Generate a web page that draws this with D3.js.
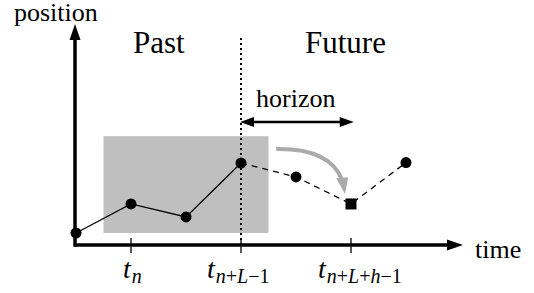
<!DOCTYPE html>
<html><head><meta charset="utf-8"><script src="https://cdn.jsdelivr.net/npm/d3@7"></script></head>
<body style="margin:0">
<svg width="534" height="293"></svg>
<script>
// time steps and positions of the series
var times = [0, 1, 2, 3, 4, 5, 6];
var positions = [0.5, 1.82, 1.23, 3.68, 3.05, 1.82, 3.7];
var pastCount = 4;       // first four points are observed (solid line)
var targetIndex = 5;     // predicted point drawn as a square
var tickTimes = [1, 3, 5];
var tickSubs = [["n"], ["n", "+", "L", "\u22121"], ["n", "+", "L", "+", "h", "\u22121"]];
var windowSpan = [0.5, 3.5];   // shaded input window (time)
var windowRange = [0.5, 4.9];  // shaded input window (position)
var nowTime = 3, horizonEnd = 5.05, horizonPos = 5.55;

var svg = d3.select("svg");

var x = d3.scaleLinear().domain([0, 6]).range([76, 406]);
var y = d3.scaleLinear().domain([0, 10]).range([244, 24]);

function serif(sel) {
  return sel.attr("font-family", "Liberation Serif");
}

// shaded window
svg.append("rect")
    .attr("x", x(windowSpan[0]))
    .attr("y", y(windowRange[1]))
    .attr("width", x(windowSpan[1]) - x(windowSpan[0]))
    .attr("height", y(windowRange[0]) - y(windowRange[1]))
    .attr("fill", "#bfbfbf");

// dotted "now" line
svg.append("line")
    .attr("x1", x(nowTime)).attr("x2", x(nowTime))
    .attr("y1", 38).attr("y2", y(0))
    .attr("stroke", "#000").attr("stroke-width", 2)
    .attr("stroke-dasharray", "2,3");

// axes
var x0 = x(0) - 1, y0 = y(0) + 1;
svg.append("line")
    .attr("x1", x0).attr("y1", y0).attr("x2", 450).attr("y2", y0)
    .attr("stroke", "#000").attr("stroke-width", 3.5);
svg.append("path")
    .attr("d", "M463," + y0 + "L447," + (y0 - 5.5) + "L447," + (y0 + 5.5) + "Z")
    .attr("fill", "#000");
svg.append("line")
    .attr("x1", x0).attr("y1", y0 + 1.75).attr("x2", x0).attr("y2", 38)
    .attr("stroke", "#000").attr("stroke-width", 3.5);
svg.append("path")
    .attr("d", "M" + x0 + ",24L" + (x0 - 5.5) + ",40L" + (x0 + 5.5) + ",40Z")
    .attr("fill", "#000");

// ticks
svg.selectAll(".tick").data(tickTimes).enter().append("line")
    .attr("x1", d => x(d)).attr("x2", d => x(d))
    .attr("y1", y0 - 7).attr("y2", y0 + 8)
    .attr("stroke", "#000").attr("stroke-width", 1.3);

var labelDx = [-8, -34, -33];
tickTimes.forEach(function(t, i) {
  var txt = serif(svg.append("text")
      .attr("x", x(t) + labelDx[i]).attr("y", 278)
      .attr("font-size", 28));
  serif(txt.append("tspan")).attr("font-style", "italic").text("t");
  tickSubs[i].forEach(function(s, j) {
    var ts = serif(txt.append("tspan"))
        .attr("font-size", 20)
        .attr("font-style", /^[a-zA-Z]$/.test(s) ? "italic" : "normal")
        .text(s);
    if (j === 0) ts.attr("dy", 5).attr("dx", 1);
  });
});

// series lines
var line = d3.line().x(d => x(d[0])).y(d => y(d[1]));
var pts = times.map((t, i) => [t, positions[i]]);
svg.append("path")
    .attr("d", line(pts.slice(0, pastCount)))
    .attr("fill", "none").attr("stroke", "#000").attr("stroke-width", 1.3);
svg.append("path")
    .attr("d", line(pts.slice(pastCount - 1)))
    .attr("fill", "none").attr("stroke", "#000").attr("stroke-width", 1.3)
    .attr("stroke-dasharray", "6,5");

svg.selectAll(".pt").data(pts.filter((p, i) => i !== targetIndex)).enter()
  .append("circle")
    .attr("cx", d => x(d[0])).attr("cy", d => y(d[1]))
    .attr("r", 5.5).attr("fill", "#000");
svg.append("rect")
    .attr("x", x(pts[targetIndex][0]) - 5.5).attr("y", y(pts[targetIndex][1]) - 5.5)
    .attr("width", 11).attr("height", 11).attr("fill", "#000");

// horizon arrow
var hy = y(horizonPos), hx1 = x(nowTime) - 1, hx2 = x(horizonEnd);
svg.append("line")
    .attr("x1", hx1 + 10).attr("x2", hx2 - 10).attr("y1", hy).attr("y2", hy)
    .attr("stroke", "#000").attr("stroke-width", 2.5);
svg.append("path")
    .attr("d", "M" + hx1 + "," + hy + "L" + (hx1 + 14) + "," + (hy - 5) + "L" + (hx1 + 14) + "," + (hy + 5) + "Z" +
               "M" + hx2 + "," + hy + "L" + (hx2 - 14) + "," + (hy - 5) + "L" + (hx2 - 14) + "," + (hy + 5) + "Z")
    .attr("fill", "#000");

// curved gray arrow
var c0 = [3.64, 4.32], c1 = [4.62, 4.36], c2 = [4.84, 2.9], tip = [4.89, 2.27];
svg.append("path")
    .attr("d", "M" + x(c0[0]) + "," + y(c0[1]) + "Q" + x(c1[0]) + "," + y(c1[1]) + " " + x(c2[0]) + "," + y(c2[1]))
    .attr("fill", "none").attr("stroke", "#aaaaaa").attr("stroke-width", 4);
svg.append("path")
    .attr("d", "M" + x(tip[0]) + "," + y(tip[1]) +
               "L" + (x(c2[0]) - 6) + "," + (y(c2[1]) - 2) +
               "L" + (x(c2[0]) + 6) + "," + (y(c2[1]) - 3) + "Z")
    .attr("fill", "#aaaaaa");

// labels
serif(svg.append("text").attr("x", 14).attr("y", 21).attr("font-size", 26)).text("position");
serif(svg.append("text").attr("x", 133).attr("y", 53).attr("font-size", 31)).text("Past");
serif(svg.append("text").attr("x", 305).attr("y", 53).attr("font-size", 31)).text("Future");
serif(svg.append("text").attr("x", 256).attr("y", 107).attr("font-size", 26)).text("horizon");
serif(svg.append("text").attr("x", 475).attr("y", 258).attr("font-size", 26)).text("time");
</script>
</body></html>
